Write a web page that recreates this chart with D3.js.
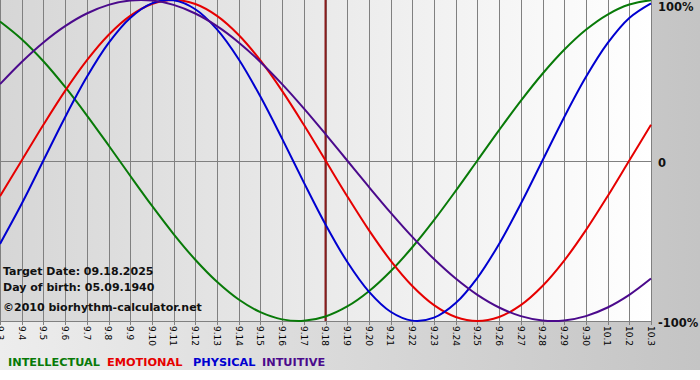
<!DOCTYPE html>
<html><head><meta charset="utf-8">
<script src="https://cdn.jsdelivr.net/npm/d3@7"></script>
<style>html,body{margin:0;padding:0;background:#fff;}svg{display:block;}</style>
</head><body>
<svg id="chart" width="700" height="380"></svg>
<script>
const dates = ["9.3","9.4","9.5","9.6","9.7","9.8","9.9","9.10","9.11","9.12","9.13","9.14","9.15","9.16","9.17","9.18","9.19","9.20","9.21","9.22","9.23","9.24","9.25","9.26","9.27","9.28","9.29","9.30","10.1","10.2","10.3"];
const intellectual = [0.8660,0.7557,0.6182,0.4582,0.2817,0.0951,-0.0951,-0.2817,-0.4582,-0.6182,-0.7557,-0.8660,-0.9450,-0.9898,-0.9989,-0.9718,-0.9096,-0.8146,-0.6901,-0.5406,-0.3717,-0.1893,0,0.1893,0.3717,0.5406,0.6901,0.8146,0.9096,0.9718,0.9989];
const emotional = [-0.2225,0,0.2225,0.4339,0.6235,0.7818,0.9010,0.9749,1,0.9749,0.9010,0.7818,0.6235,0.4339,0.2225,0,-0.2225,-0.4339,-0.6235,-0.7818,-0.9010,-0.9749,-1,-0.9749,-0.9010,-0.7818,-0.6235,-0.4339,-0.2225,0,0.2225];
const physical = [-0.5196,-0.2698,0,0.2698,0.5196,0.7308,0.8879,0.9791,0.9977,0.9423,0.8170,0.6311,0.3984,0.1362,-0.1362,-0.3984,-0.6311,-0.8170,-0.9423,-0.9977,-0.9791,-0.8879,-0.7308,-0.5196,-0.2698,0,0.2698,0.5196,0.7308,0.8879,0.9791];
const intuitive = [0.4759,0.6142,0.7357,0.8372,0.9158,0.9694,0.9966,0.9966,0.9694,0.9158,0.8372,0.7357,0.6142,0.4759,0.3247,0.1646,0,-0.1646,-0.3247,-0.4759,-0.6142,-0.7357,-0.8372,-0.9158,-0.9694,-0.9966,-0.9966,-0.9694,-0.9158,-0.8372,-0.7357];
const yTicks = [1, 0, -1];
const yTickLabels = ["100%", "0", "-100%"];
const targetDate = "9.18";
const infoLines = ["Target Date: 09.18.2025", "Day of birth: 05.09.1940", "\u00a92010 biorhythm-calculator.net"];
const seriesNames = ["INTELLECTUAL","EMOTIONAL","PHYSICAL","INTUITIVE"];

const colors = {INTELLECTUAL:"#087a08", EMOTIONAL:"#e60000", PHYSICAL:"#0000d0", INTUITIVE:"#4b0a8c"};
const seriesData = {INTELLECTUAL:intellectual, EMOTIONAL:emotional, PHYSICAL:physical, INTUITIVE:intuitive};

const W = 700, H = 380;
const plot = {left:0, top:0, right:651, bottom:321};
const svg = d3.select("#chart");
const defs = svg.append("defs");
const g1 = defs.append("linearGradient").attr("id","outerG").attr("x1","0").attr("x2","1").attr("y1","0").attr("y2","0");
g1.append("stop").attr("offset","0").attr("stop-color","#ededed");
g1.append("stop").attr("offset","1").attr("stop-color","#c4c4c4");
const g2 = defs.append("linearGradient").attr("id","plotG").attr("x1","0").attr("x2","1").attr("y1","0").attr("y2","0");
g2.append("stop").attr("offset","0").attr("stop-color","#d6d6d6");
g2.append("stop").attr("offset","1").attr("stop-color","#ffffff");
defs.append("clipPath").attr("id","clipP").append("rect")
  .attr("x",plot.left).attr("y",plot.top-2).attr("width",plot.right-plot.left+1).attr("height",plot.bottom-plot.top+3);

svg.append("rect").attr("x",0).attr("y",0).attr("width",W).attr("height",370).attr("fill","url(#outerG)");
svg.append("rect").attr("x",plot.left).attr("y",plot.top).attr("width",plot.right-plot.left).attr("height",plot.bottom-plot.top).attr("fill","url(#plotG)");

const x = d3.scalePoint().domain(dates).range([plot.left, plot.right]);
const y = d3.scaleLinear().domain([-1,1]).range([plot.bottom, plot.top]);

// vertical grid + ticks
const xAxis = d3.axisBottom(x).tickSize(plot.bottom - plot.top + 4).tickFormat("");
const gx = svg.append("g").attr("transform",`translate(0,${plot.top})`).call(xAxis);
gx.select(".domain").remove();
gx.selectAll(".tick line").attr("stroke","#808080").attr("stroke-width",1).attr("shape-rendering","crispEdges");

// horizontal lines at 0 and bottom
svg.selectAll("line.hgrid").data([0,-1]).enter().append("line").attr("class","hgrid")
  .attr("x1",plot.left).attr("x2",plot.right).attr("y1",d=>Math.round(y(d))+0.5).attr("y2",d=>Math.round(y(d))+0.5)
  .attr("stroke","#808080").attr("stroke-width",1);

// tick labels rotated
svg.append("g").selectAll("text").data(dates).enter().append("text")
  .attr("transform",d=>`translate(${x(d)},${plot.bottom+5}) rotate(90)`)
  .attr("text-anchor","start").attr("dy","0.35em")
  .attr("font-family","DejaVu Sans, Verdana, sans-serif").attr("font-size","9px").attr("fill","#000")
  .text(d=>d);

// y labels
svg.append("g").selectAll("text").data(yTicks).enter().append("text")
  .attr("x",658).attr("y",(d)=>Math.max(y(d)+2, 7)).attr("dy","0.35em")
  .attr("font-family","DejaVu Sans, Verdana, sans-serif").attr("font-weight","bold").attr("font-size","11.5px").attr("fill","#111")
  .text((d,i)=>yTickLabels[i]);

// target line
svg.append("line").attr("x1",x(targetDate)).attr("x2",x(targetDate)).attr("y1",plot.top).attr("y2",plot.bottom)
  .attr("stroke","#8a1c1c").attr("stroke-width",2);

// info text
svg.append("g").selectAll("text").data(infoLines).enter().append("text")
  .attr("x",3).attr("y",(d,i)=>[271,287,307][i]).attr("dy","0.35em")
  .attr("font-family","DejaVu Sans, Verdana, sans-serif").attr("font-weight","bold").attr("font-size","11px").attr("fill","#111")
  .text(d=>d);

// curves
const line = d3.line().x((d,i)=>x(dates[i])).y(d=>y(d)).curve(d3.curveCatmullRom.alpha(0.5));
const gc = svg.append("g").attr("clip-path","url(#clipP)");
["INTELLECTUAL","EMOTIONAL","PHYSICAL","INTUITIVE"].forEach(k=>{
  gc.append("path").datum(seriesData[k]).attr("d",line).attr("fill","none")
    .attr("stroke",colors[k]).attr("stroke-width",2);
});

// legend
const legendX = [8,107,193,262];
svg.append("g").selectAll("text").data(seriesNames).enter().append("text")
  .attr("x",(d,i)=>legendX[i]).attr("y",362).attr("dy","0.35em")
  .attr("font-family","DejaVu Sans, Verdana, sans-serif").attr("font-weight","bold").attr("font-size","11.3px")
  .attr("fill",d=>colors[d]).text(d=>d);
</script>
</body></html>
